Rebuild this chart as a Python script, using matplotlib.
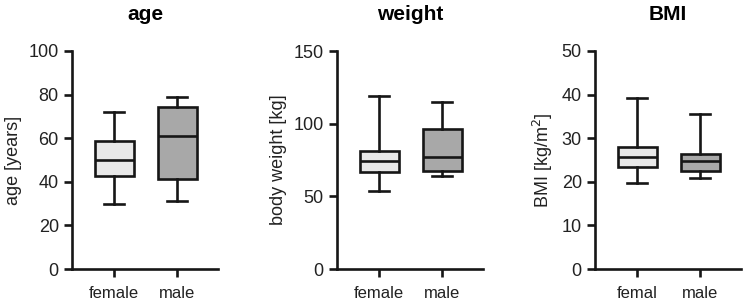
import numpy as np
import matplotlib.pyplot as plt

plt.rcParams['font.family'] = ['Liberation Sans', 'DejaVu Sans']

titles = ['age', 'weight', 'BMI']
ylabels = ['age [years]', 'body weight [kg]', 'BMI [kg/m$^2$]']
groups = [['female', 'male'], ['female', 'male'], ['femal', 'male']]
ylims = [100, 150, 50]
yticks = [[0, 20, 40, 60, 80, 100], [0, 50, 100, 150], [0, 10, 20, 30, 40, 50]]

# whisker low, q1, median, q3, whisker high
age_female = [30, 42.5, 50, 58.5, 72]
age_male = [31, 41.5, 61, 74.5, 79]
weight_female = [54, 67, 74, 81.5, 119]
weight_male = [64, 67.5, 77, 96.5, 115]
bmi_female = [19.7, 23.3, 25.7, 28.0, 39.3]
bmi_male = [20.8, 22.5, 24.8, 26.3, 35.5]

data = [[age_female, age_male], [weight_female, weight_male], [bmi_female, bmi_male]]
colors = ['#e8e8e8', '#a8a8a8']

fig = plt.figure(figsize=(7.49, 3.06), dpi=100)
lefts = [72, 337, 595]
W, H = 749, 306
lw = 1.9
ink = '#161616'

for k in range(3):
    ax = fig.add_axes([lefts[k]/W, (H-269)/H, 146/W, (269-51)/H])
    stats = []
    for g, v in zip(groups[k], data[k]):
        stats.append(dict(label=g, whislo=v[0], q1=v[1], med=v[2], q3=v[3], whishi=v[4]))
    bp = ax.bxp(stats, positions=[1, 2], widths=0.62, capwidths=0.31, patch_artist=True,
                showfliers=False,
                boxprops=dict(linewidth=lw, edgecolor=ink),
                medianprops=dict(linewidth=lw, color=ink),
                whiskerprops=dict(linewidth=lw, color=ink),
                capprops=dict(linewidth=lw, color=ink))
    for patch, c in zip(bp['boxes'], colors):
        patch.set_facecolor(c)
    ax.set_xlim(0.33, 2.65)
    ax.set_ylim(0, ylims[k])
    ax.set_yticks(yticks[k])
    ax.set_xticks([1, 2], groups[k])
    for s in ['top', 'right']:
        ax.spines[s].set_visible(False)
    for s in ['left', 'bottom']:
        ax.spines[s].set_linewidth(lw)
        ax.spines[s].set_color(ink)
    ax.spines['left'].set_bounds(0, ylims[k])
    ax.tick_params(width=lw, length=6, color=ink, labelcolor='#222222')
    ax.tick_params(axis='y', labelsize=13)
    ax.tick_params(axis='x', labelsize=12, pad=6)
    ax.set_ylabel(ylabels[k], fontsize=13, color='#222222', labelpad=5)
    ax.set_title(titles[k], fontsize=15, fontweight='bold', pad=22)

fig.savefig('out.png', dpi=100)
